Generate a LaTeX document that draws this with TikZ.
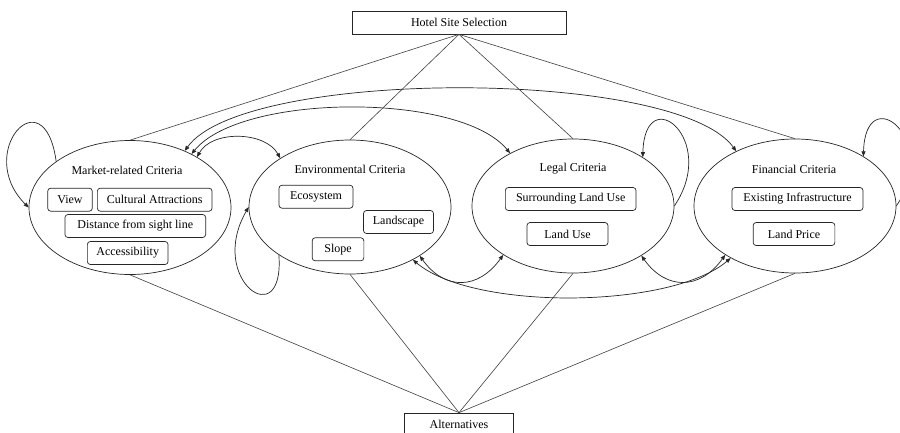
\documentclass[tikz,border=0pt]{standalone}
\usepackage{fontspec}
\setmainfont{Liberation Serif}
\usetikzlibrary{arrows.meta, shapes.geometric, positioning}

\tikzset{
  crit/.style={draw=black!85, line width=0.7pt, ellipse, minimum width=202pt, minimum height=134pt, inner sep=0pt},
  subbox/.style={draw=black!85, line width=0.7pt, rounded corners=3pt, minimum height=23pt, inner sep=0pt},
  mainbox/.style={draw=black!85, line width=0.7pt, minimum height=23pt, inner sep=0pt},
  link/.style={black!75, line width=0.6pt},
  dep/.style={black!85, line width=0.7pt, {Triangle[length=5pt,width=4pt]}-{Triangle[length=5pt,width=4pt]}},
  selfarc/.style={black!85, line width=0.7pt, -{Triangle[length=5pt,width=4pt]}},
}

\begin{document}
\begin{tikzpicture}[x=1pt, y=1pt, font=\fontsize{12}{14}\selectfont]

\path[use as bounding box, fill=white] (0,0) rectangle (900,-432);

% === Goal and alternatives ===
\node[mainbox, minimum width=214pt] (hotel) at (459,-22.5) {Hotel Site Selection};
\node[mainbox, minimum width=109pt] (alt) at (459,-424.5) {Alternatives};

% === Criteria clusters ===
\node[crit] (market) at (130,-207.5) {};
\node[crit] (env) at (350,-207) {};
\node[crit] (legal) at (573,-206) {};
\node[crit] (fin) at (795,-206) {};

\node (markettitle) at (127,-170) {Market-related Criteria};
\node (envtitle) at (350,-169) {Environmental Criteria};
\node (legaltitle) at (573,-169) {Legal Criteria};
\node (fintitle) at (794,-169) {Financial Criteria};

% Market-related sub-criteria
\node[subbox, minimum width=44.6pt] (view) at (70,-199.7) {View};
\node[subbox, minimum width=114.7pt] (cultural) at (154.7,-199.7) {Cultural Attractions};
\node[subbox, minimum width=140.7pt] (distance) at (135.3,-226) {Distance from sight line};
\node[subbox, minimum width=80.7pt] (access) at (127.7,-253) {Accessibility};

% Environmental sub-criteria
\node[subbox, minimum width=74pt] (eco) at (316,-196.7) {Ecosystem};
\node[subbox, minimum width=70pt] (landscape) at (398.5,-222) {Landscape};
\node[subbox, minimum width=51.7pt] (slope) at (338,-249.3) {Slope};

% Legal sub-criteria
\node[subbox, minimum width=130.7pt] (surround) at (570.7,-199) {Surrounding Land Use};
\node[subbox, minimum width=81pt] (landuse) at (567.5,-234) {Land Use};

% Financial sub-criteria
\node[subbox, minimum width=131pt] (infra) at (797.5,-199) {Existing Infrastructure};
\node[subbox, minimum width=81.7pt] (price) at (794,-234) {Land Price};

% === Hierarchy links ===
\draw[link] (hotel.south) -- (market.north);
\draw[link] (hotel.south) -- (env.north);
\draw[link] (hotel.south) -- (legal.north);
\draw[link] (hotel.south) -- (fin.north);
\draw[link] (market.south) -- (alt.north);
\draw[link] (env.south) -- (alt.north);
\draw[link] (legal.south) -- (alt.north);
\draw[link] (fin.south) -- (alt.north);

% === Dependencies between clusters ===
\draw[dep] (market.46) .. controls +(60,83) and +(-60,83) .. (fin.137);
\draw[dep] (market.41) .. controls +(50,61) and +(-50,61) .. (legal.140);
\draw[dep] (market.37) .. controls +(15,27) and +(-15,27) .. (env.145);
\draw[dep] (env.325) .. controls +(25,-35) and +(-25,-35) .. (legal.215);
\draw[dep] (legal.324) .. controls +(25,-35) and +(-25,-35) .. (fin.215);
\draw[dep] (env.320) .. controls +(60,-51) and +(-60,-51) .. (fin.219);

% inner dependencies
\draw[selfarc] (market.148) .. controls +(-12,87) and +(-55,55) .. (market.west);
\draw[selfarc] (env.214) .. controls +(6,-80) and +(-42,-73) .. (env.west);
\draw[selfarc] (legal.east) .. controls +(45,67) and +(2,77) .. (legal.35);
\draw[selfarc] (fin.east) .. controls +(45,67) and +(2,77) .. (fin.36);

\end{tikzpicture}
\end{document}
